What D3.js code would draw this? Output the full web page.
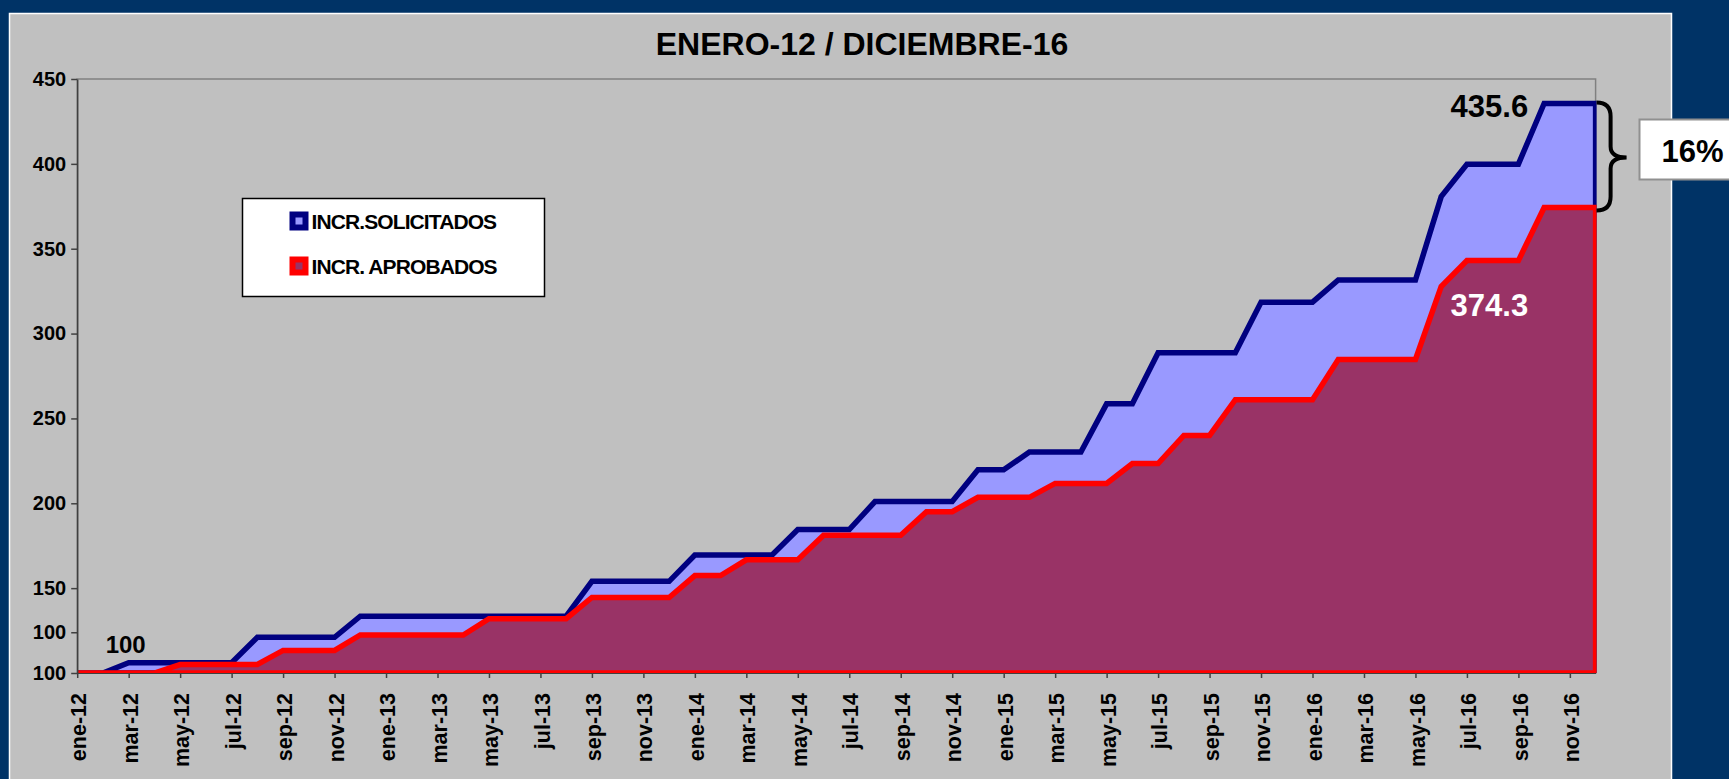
<!DOCTYPE html>
<html>
<head>
<meta charset="utf-8">
<script src="https://cdn.jsdelivr.net/npm/d3@7"></script>
<style>
  body { margin: 0; background: #003366; overflow: hidden; }
  text { font-family: "Liberation Sans", Arial, sans-serif; font-weight: bold; }
</style>
</head>
<body>
<div id="chart"></div>
<script>
// categorías: meses ene-12 ... dic-16
var monthNames = ["ene", "feb", "mar", "abr", "may", "jun", "jul", "ago", "sep", "oct", "nov", "dic"];
var years = ["12", "13", "14", "15", "16"];
var months = [];
years.forEach(function (yy) {
  monthNames.forEach(function (m) { months.push(m + "-" + yy); });
});

// incrementos solicitados (índice, ene-12 = 100)
var solicitados = [
  100, 100, 106, 106, 106, 106, 106, 121, 121, 121, 121, 133.5,
  133.5, 133.5, 133.5, 133.5, 133.5, 133.5, 133.5, 133.5, 154, 154, 154, 154,
  169.5, 169.5, 169.5, 169.5, 184.5, 184.5, 184.5, 201, 201, 201, 201, 219.7,
  219.7, 230.2, 230.2, 230.2, 258.6, 258.6, 288.7, 288.7, 288.7, 288.7, 318.5, 318.5,
  318.5, 331.6, 331.6, 331.6, 331.6, 380.7, 399.8, 399.8, 399.8, 435.6, 435.6, 435.6
];

// incrementos aprobados
var aprobados = [
  100, 100, 100, 100, 105, 105, 105, 105, 113.3, 113.3, 113.3, 122.4,
  122.4, 122.4, 122.4, 122.4, 132, 132, 132, 132, 144.5, 144.5, 144.5, 144.5,
  157.4, 157.4, 166.7, 166.7, 166.7, 181.2, 181.2, 181.2, 181.2, 195, 195, 203.5,
  203.5, 203.5, 211.7, 211.7, 211.7, 223.4, 223.4, 240, 240, 261, 261, 261,
  261, 284.7, 284.7, 284.7, 284.7, 327.7, 343, 343, 343, 374.3, 374.3, 374.3
];

var seriesNames = ["INCR.SOLICITADOS", "INCR. APROBADOS"];

// etiquetas del eje Y (tal como aparecen en el original)
var yTickValues = [100, 124, 150, 200, 250, 300, 350, 400, 450];
var yTickLabels = ["100", "100", "150", "200", "250", "300", "350", "400", "450"];

var titleText = "ENERO-12 / DICIEMBRE-16";
var diffText = "16%";

// tamaño
var W = 1729, H = 779;
var margin = {top: 79, left: 77.2, right: W - 1595.6, bottom: H - 673};
var width = W - margin.left - margin.right,
  height = H - margin.top - margin.bottom;

var svg = d3.select("#chart").append("svg")
  .attr("width", W)
  .attr("height", H);

// fondo del gráfico
svg.append("rect")
  .attr("x", 9.5).attr("y", 13.5)
  .attr("width", 1662).attr("height", 800)
  .attr("fill", "#C0C0C0")
  .attr("stroke", "#ffffff")
  .attr("stroke-width", 1.5);

// título
svg.append("text")
  .attr("x", 862)
  .attr("y", 55)
  .attr("text-anchor", "middle")
  .style("font-size", "32px")
  .text(titleText);

var g = svg.append("g")
  .attr("transform", "translate(" + margin.left + "," + margin.top + ")");

// escalas
var x = d3.scalePoint().domain(months).range([0, width]);
var y = d3.scaleLinear().domain([100, 450]).range([height, 0]);

// borde del área de trazado
g.append("rect")
  .attr("width", width).attr("height", height)
  .attr("fill", "none")
  .attr("stroke", "#808080")
  .attr("stroke-width", 1.5);

g.append("clipPath").attr("id", "clip")
  .append("rect")
  .attr("x", 0).attr("y", -20)
  .attr("width", width + 1).attr("height", height + 20);

function areaOf(values) {
  return d3.area()
    .x(function (d, i) { return x(months[i]); })
    .y0(y(100))
    .y1(function (d) { return y(d); })(values);
}

var plot = g.append("g").attr("clip-path", "url(#clip)");

plot.append("path")
  .attr("d", areaOf(solicitados))
  .attr("fill", "#9999FF")
  .attr("stroke", "#000080")
  .attr("stroke-width", 5.5);

plot.append("path")
  .attr("d", areaOf(aprobados))
  .attr("fill", "#993366")
  .attr("stroke", "#FF0000")
  .attr("stroke-width", 5.5);

// eje X
var xAxis = g.append("g")
  .attr("transform", "translate(0," + height + ")")
  .call(d3.axisBottom(x)
    .tickValues(months.filter(function (d, i) { return i % 2 === 0; }))
    .tickSize(5)
    .tickSizeOuter(0));
xAxis.select(".domain").attr("stroke", "#404040").attr("stroke-width", 1);
xAxis.selectAll(".tick line").attr("stroke", "#404040").attr("stroke-width", 1.5);
xAxis.selectAll("text")
  .attr("transform", "rotate(-90)")
  .attr("x", -20)
  .attr("y", 0)
  .attr("dy", "0.4em")
  .style("text-anchor", "end")
  .style("font-size", "21.5px")
  .style("font-weight", "bold")
  .attr("fill", "#000");

// eje Y
var yAxis = g.append("g")
  .call(d3.axisLeft(y)
    .tickValues(yTickValues)
    .tickFormat(function (d, i) { return yTickLabels[i]; })
    .tickSize(6)
    .tickPadding(5)
    .tickSizeOuter(0));
yAxis.select(".domain").attr("stroke", "#404040").attr("stroke-width", 1.5);
yAxis.selectAll(".tick line").attr("stroke", "#404040").attr("stroke-width", 1.5);
yAxis.selectAll("text")
  .style("font-size", "20px")
  .style("font-weight", "bold")
  .attr("fill", "#000");

// etiquetas de datos
var last = months.length - 1;
g.append("text")
  .attr("x", x(months[2]) - 3)
  .attr("y", y(solicitados[2]) - 9.5)
  .attr("text-anchor", "middle")
  .style("font-size", "24px")
  .text("100");

g.append("text")
  .attr("x", x(months[57]) - 16)
  .attr("y", y(solicitados[last]) + 14)
  .attr("text-anchor", "end")
  .style("font-size", "31px")
  .text(d3.format(".1f")(solicitados[last]));

g.append("text")
  .attr("x", x(months[57]) - 16)
  .attr("y", y(aprobados[last]) + 108.5)
  .attr("text-anchor", "end")
  .attr("fill", "#ffffff")
  .style("font-size", "31px")
  .text(d3.format(".1f")(aprobados[last]));

// llave y diferencia
var bx = margin.left + width;
var yTop = margin.top + y(solicitados[last]) - 1;
var yBot = margin.top + y(aprobados[last]) + 3;
var yMid = (yTop + yBot) / 2 + 1;
svg.append("path")
  .attr("d", "M" + (bx + 1) + "," + yTop +
    " Q" + (bx + 15) + "," + yTop + " " + (bx + 15) + "," + (yTop + 14) +
    " L" + (bx + 15) + "," + (yMid - 11) +
    " Q" + (bx + 15) + "," + yMid + " " + (bx + 31) + "," + yMid +
    " Q" + (bx + 15) + "," + yMid + " " + (bx + 15) + "," + (yMid + 11) +
    " L" + (bx + 15) + "," + (yBot - 14) +
    " Q" + (bx + 15) + "," + yBot + " " + (bx + 1) + "," + yBot)
  .attr("fill", "none")
  .attr("stroke", "#000")
  .attr("stroke-width", 4);

svg.append("rect")
  .attr("x", 1639.5).attr("y", 119.5)
  .attr("width", 110).attr("height", 60)
  .attr("fill", "#ffffff")
  .attr("stroke", "#909090")
  .attr("stroke-width", 2);

svg.append("text")
  .attr("x", 1661.5)
  .attr("y", 161.5)
  .style("font-size", "31px")
  .text(diffText);

// leyenda
var legend = svg.append("g").attr("transform", "translate(242.5,198.5)");
legend.append("rect")
  .attr("width", 302).attr("height", 98)
  .attr("fill", "#ffffff")
  .attr("stroke", "#000")
  .attr("stroke-width", 1.5);

var legendColors = [["#000080", "#9999FF"], ["#FF0000", "#993366"]];
var item = legend.selectAll(".item")
  .data(seriesNames)
  .enter().append("g")
  .attr("transform", function (d, i) { return "translate(47," + (13 + i * 45) + ")"; });

item.append("rect")
  .attr("width", 19).attr("height", 19)
  .attr("fill", function (d, i) { return legendColors[i][0]; });
item.append("rect")
  .attr("x", 6).attr("y", 6)
  .attr("width", 7).attr("height", 7)
  .attr("fill", function (d, i) { return legendColors[i][1]; });
item.append("text")
  .attr("x", 22)
  .attr("y", 17.5)
  .style("font-size", "21px")
  .style("letter-spacing", "-0.9px")
  .text(function (d) { return d; });
</script>
</body>
</html>
